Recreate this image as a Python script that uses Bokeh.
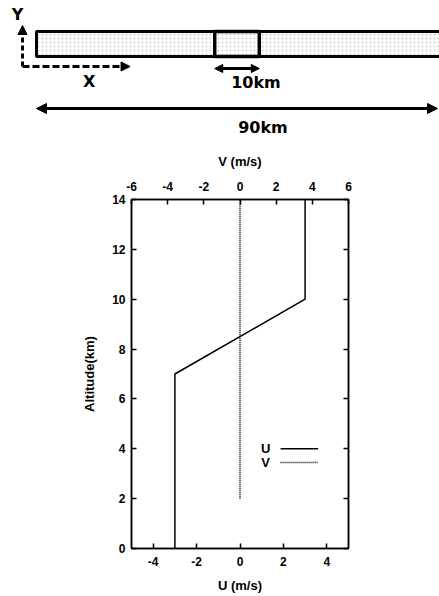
from bokeh.plotting import figure
from bokeh.models import (Range1d, LinearAxis, FixedTicker, Arrow, NormalHead)
from bokeh.layouts import column
from bokeh.core.properties import value
from bokeh.embed import file_html
from bokeh.resources import INLINE

# Domain sketch (km)
domain_km = 90
box_km = [40, 50]

# Wind profiles
u_alt = [0, 7, 10, 14]
u_ms = [-3, -3, 3, 3]
v_alt = [2, 14]
v_ms = [0, 0]

legend_labels = ["U", "V"]
alt_ticks = [0, 2, 4, 6, 8, 10, 12, 14]
u_ticks = [-4, -2, 0, 2, 4]
u_tick_labels = ["-4", "-2", "0", "2", "4"]
v_ticks = [-6, -4, -2, 0, 2, 4, 6]
v_tick_labels = ["-6", "-4", "-2", "0", "2", "4", "6"]

FONT = value("Liberation Sans")
SKETCH_FONT = value("DejaVu Sans")


def head(size):
    return NormalHead(size=size, fill_color="black", line_color="black")


# ---- domain sketch ----
px_per_km = 401 / 90.0
d = figure(width=439, height=140, output_backend="svg", toolbar_location=None,
           x_range=Range1d(-36 / px_per_km, 90 + 2 / px_per_km),
           y_range=Range1d(140, 0), min_border=0,
           x_axis_location=None, y_axis_location=None)
d.frame_align = False
d.grid.visible = False
d.outline_line_color = None

d.quad(left=0, right=domain_km + 3, top=31, bottom=56, fill_color="white",
       hatch_pattern="dot", hatch_color="#b8b8b8", hatch_alpha=0.7, hatch_scale=4,
       hatch_weight=1, line_color="black", line_width=3)
d.quad(left=box_km[0], right=box_km[1], top=31, bottom=56, fill_alpha=0,
       line_color="black", line_width=3.5)

cx = -14 / px_per_km
d.add_layout(Arrow(x_start=cx, y_start=66, x_end=cx, y_end=25, line_width=3,
                   line_dash="5 3", end=head(9)))
d.add_layout(Arrow(x_start=cx, y_start=66, x_end=21, y_end=66, line_width=3,
                   line_dash="7 3", end=head(9)))
d.add_layout(Arrow(x_start=box_km[0], y_start=68, x_end=box_km[1], y_end=68, line_width=3,
                   start=head(8), end=head(8)))
d.add_layout(Arrow(x_start=0, y_start=108, x_end=domain_km, y_end=108, line_width=3,
                   start=head(10), end=head(10)))

d.text(x=[-19 / px_per_km, 11.8], y=[14, 81], text=["Y", "X"],
       text_font=SKETCH_FONT, text_font_style="bold", text_font_size="16px",
       text_align="center", text_baseline="middle", text_color="black")
d.text(x=[(box_km[0] + box_km[1]) / 2], y=[82], x_offset=19, text=["10km"],
       text_font=SKETCH_FONT, text_font_style="bold", text_font_size="16px",
       text_align="center", text_baseline="middle", text_color="black")
d.text(x=[domain_km / 2], y=[127], x_offset=26, text=["90km"],
       text_font=SKETCH_FONT, text_font_style="bold", text_font_size="16px",
       text_align="center", text_baseline="middle", text_color="black")

# ---- wind profile ----
p = figure(width=439, height=456, output_backend="svg", toolbar_location=None,
           x_range=Range1d(-5, 5), y_range=Range1d(0, 14),
           min_border_left=131, min_border_right=91, min_border_top=59,
           min_border_bottom=48, x_axis_location=None, y_axis_location=None)
p.frame_align = False
p.extra_x_ranges = {"v": Range1d(-6, 6)}
p.grid.visible = False
p.outline_line_color = "black"
p.outline_line_width = 1.5

p.line(u_ms, u_alt, line_color="black", line_width=1.5)
p.line(v_ms, v_alt, x_range_name="v", line_color="black", line_width=1.5, line_dash="1 1")

bottom = LinearAxis(axis_label="U (m/s)", ticker=FixedTicker(ticks=u_ticks),
                    major_label_overrides=dict(zip(u_ticks, u_tick_labels)))
top = LinearAxis(x_range_name="v", axis_label="V (m/s)", ticker=FixedTicker(ticks=v_ticks),
                 major_label_overrides=dict(zip(v_ticks, v_tick_labels)))
left = LinearAxis(axis_label="Altitude(km)", ticker=FixedTicker(ticks=alt_ticks))
right = LinearAxis(ticker=FixedTicker(ticks=alt_ticks),
                   major_label_overrides={t: "" for t in alt_ticks})
p.add_layout(bottom, "below")
p.add_layout(top, "above")
p.add_layout(left, "left")
p.add_layout(right, "right")

for ax in (bottom, top, left, right):
    ax.major_tick_in = 5
    ax.major_tick_out = 0
    ax.minor_tick_in = 0
    ax.minor_tick_out = 0
    ax.axis_line_color = "black"
    ax.axis_line_width = 1.5
    ax.major_tick_line_color = "black"
    ax.major_tick_line_width = 1.5
    ax.major_label_text_font = "Liberation Sans"
    ax.major_label_text_font_style = "bold"
    ax.major_label_text_font_size = "12px"
    ax.major_label_text_color = "black"
    ax.axis_label_text_font = "Liberation Sans"
    ax.axis_label_text_font_style = "bold"
    ax.axis_label_text_color = "black"
    ax.axis_label_text_font_size = "13px"
    ax.major_label_standoff = 6
    ax.axis_label_standoff = 8
top.major_label_standoff = 9
top.axis_label_standoff = 10
bottom.major_label_standoff = 8
bottom.axis_label_standoff = 9
left.axis_label_standoff = 12

# Legend: label then line sample
p.text(x=[1.18, 1.18], y=[4.0, 3.45], text=legend_labels, text_font=FONT,
       text_font_style="bold", text_font_size="13px", text_align="center",
       text_baseline="middle", text_color="black")
p.segment(x0=[1.87], y0=[4.0], x1=[3.6], y1=[4.0], line_color="black", line_width=1.5)
p.segment(x0=[1.87], y0=[3.45], x1=[3.6], y1=[3.45], line_color="black",
          line_width=1.5, line_dash="1 1")

layout = column(d, p, spacing=0)
open("out.html", "w").write(file_html(layout, INLINE))
